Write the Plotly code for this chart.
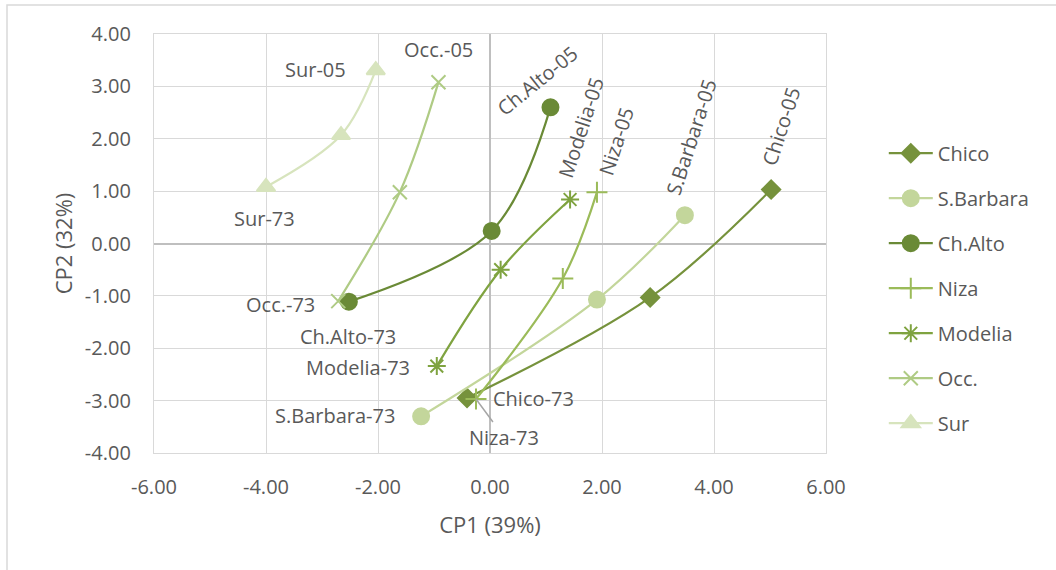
import plotly.graph_objects as go

# ---- data ----
series_names = ["Chico", "S.Barbara", "Ch.Alto", "Niza", "Modelia", "Occ.", "Sur"]
chico_x = [-0.41, 2.86, 5.02]
chico_y = [-2.95, -1.03, 1.03]
sbarbara_x = [-1.23, 1.91, 3.48]
sbarbara_y = [-3.30, -1.07, 0.54]
chalto_x = [-2.52, 0.03, 1.08]
chalto_y = [-1.11, 0.24, 2.60]
niza_x = [-0.25, 1.30, 1.91]
niza_y = [-2.97, -0.67, 0.98]
modelia_x = [-0.95, 0.19, 1.43]
modelia_y = [-2.34, -0.50, 0.84]
occ_x = [-2.71, -1.61, -0.92]
occ_y = [-1.10, 0.98, 3.08]
sur_x = [-4.00, -2.66, -2.04]
sur_y = [1.08, 2.07, 3.31]

start_labels = ["Chico-73", "S.Barbara-73", "Ch.Alto-73", "Niza-73", "Modelia-73", "Occ.-73", "Sur-73"]
end_labels = ["Chico-05", "S.Barbara-05", "Ch.Alto-05", "Niza-05", "Modelia-05", "Occ.-05", "Sur-05"]

x_tick_vals = [-6, -4, -2, 0, 2, 4, 6]
x_tick_text = ["-6.00", "-4.00", "-2.00", "0.00", "2.00", "4.00", "6.00"]
y_tick_vals = [-4, -3, -2, -1, 0, 1, 2, 3, 4]
y_tick_text = ["-4.00", "-3.00", "-2.00", "-1.00", "0.00", "1.00", "2.00", "3.00", "4.00"]

xs = [chico_x, sbarbara_x, chalto_x, niza_x, modelia_x, occ_x, sur_x]
ys = [chico_y, sbarbara_y, chalto_y, niza_y, modelia_y, occ_y, sur_y]

# ---- styles ----
colors = ["#76923C", "#C3D69B", "#6A8A36", "#9BBB59", "#7FA340", "#AFCB84", "#D7E4BD"]
symbols = ["diamond", "circle", "circle", "cross-thin-open", "asterisk-open", "x-thin-open", "triangle-up"]
sizes = [14, 16, 16, 15, 15, 14, 16]

# label offsets in px (xshift, yshift, angle)
start_off = [(66, 0, 0), (-86, 1, 0), (-1, -35, 0), (None, None, None), (-79, -1, 0), (-58, -3, 0), (-2, -32, 0)]
end_off = [(10, 63, -72), (6, 78, -72), (-13, 27, -39), (19, 51, -72), (11, 72, -72), (0, 33, 0), (-60, 1, 0)]

FONT = "Open Sans"
TXT = "#595959"

fig = go.Figure()
for i, name in enumerate(series_names):
    fig.add_trace(go.Scatter(
        x=xs[i], y=ys[i], name=name, mode="lines+markers",
        legendgroup=name,
        line=dict(color=colors[i], width=2.2, shape="spline"),
        marker=dict(symbol=symbols[i], size=sizes[i], color=colors[i],
                    line=dict(color=colors[i], width=2)),
    ))

annotations = []
for i in range(len(series_names)):
    sx, sy, sa = start_off[i]
    if sx is None:
        annotations.append(dict(
            x=xs[i][0], y=ys[i][0], xref="x", yref="y", text=start_labels[i],
            showarrow=True, arrowhead=0, arrowwidth=1.5, arrowcolor="#A6A6A6",
            ax=28, ay=38, font=dict(family=FONT, size=20, color=TXT)))
    else:
        annotations.append(dict(
            x=xs[i][0], y=ys[i][0], xref="x", yref="y", text=start_labels[i],
            showarrow=False, xshift=sx, yshift=sy, textangle=sa,
            font=dict(family=FONT, size=20, color=TXT)))
    ex, ey, ea = end_off[i]
    annotations.append(dict(
        x=xs[i][-1], y=ys[i][-1], xref="x", yref="y", text=end_labels[i],
        showarrow=False, xshift=ex, yshift=ey, textangle=ea,
        font=dict(family=FONT, size=20, color=TXT)))

grid = "#D9D9D9"
fig.update_layout(
    width=1056, height=570,
    margin=dict(l=154, r=230, t=34, b=117),
    paper_bgcolor="white", plot_bgcolor="white",
    font=dict(family=FONT, size=20, color=TXT),
    annotations=annotations,
    showlegend=True,
    legend=dict(x=1.086, y=0.762, xanchor="left", yanchor="top",
                font=dict(family=FONT, size=20, color=TXT),
                tracegroupgap=16, itemwidth=44, bgcolor="rgba(0,0,0,0)"),
    shapes=[dict(type="rect", xref="paper", yref="paper",
                 x0=-0.21875, x1=1.5, y0=-0.5, y1=1.069,
                 line=dict(color="#D9D9D9", width=1.5), layer="below")],
)
fig.update_xaxes(
    range=[-6, 6], tickvals=x_tick_vals, ticktext=x_tick_text,
    showgrid=True, gridcolor=grid, gridwidth=1.3,
    zeroline=True, zerolinecolor="#BFBFBF", zerolinewidth=1.5,
    showline=True, linecolor=grid, linewidth=1.3, mirror=True,
    ticks="", ticklabelstandoff=16,
    tickfont=dict(family=FONT, size=20, color=TXT),
    title=dict(text="CP1 (39%)", font=dict(family=FONT, size=22, color=TXT), standoff=18),
)
fig.update_yaxes(
    range=[-4, 4], tickvals=y_tick_vals, ticktext=y_tick_text,
    showgrid=True, gridcolor=grid, gridwidth=1.3,
    zeroline=True, zerolinecolor="#BFBFBF", zerolinewidth=1.5,
    showline=True, linecolor=grid, linewidth=1.3, mirror=True,
    ticks="", ticklabelstandoff=18,
    tickfont=dict(family=FONT, size=20, color=TXT),
    title=dict(text="CP2 (32%)", font=dict(family=FONT, size=22, color=TXT), standoff=6),
)

fig.write_html("out.html", config={"displayModeBar": False},
               post_script="document.body.style.margin='0';")
